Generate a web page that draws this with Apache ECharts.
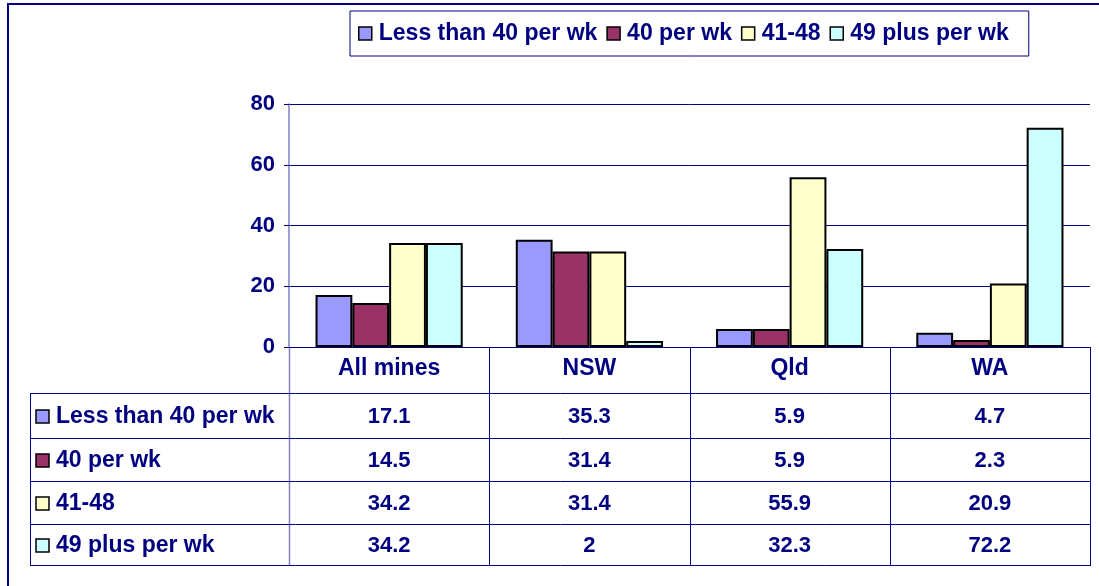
<!DOCTYPE html>
<html>
<head>
<meta charset="utf-8">
<script src="https://cdn.jsdelivr.net/npm/echarts@6/dist/echarts.min.js"></script>
<style>
  html, body { margin: 0; padding: 0; background: #fff; }
  #chart { width: 1099px; height: 586px; }
</style>
</head>
<body>
<div id="chart"></div>
<script>
// Weekly hours worked by mine location (%)
const categories = ['All mines', 'NSW', 'Qld', 'WA'];
const seriesNames = ['Less than 40 per wk', '40 per wk', '41-48', '49 plus per wk'];
const lessThan40 = [17.1, 35.3, 5.9, 4.7];
const exactly40 = [14.5, 31.4, 5.9, 2.3];
const from41to48 = [34.2, 31.4, 55.9, 20.9];
const over49 = [34.2, 2, 32.3, 72.2];
const yMin = 0, yMax = 80, yStep = 20;

const seriesValues = [lessThan40, exactly40, from41to48, over49];
const colors = ['#9999FF', '#993366', '#FFFFCC', '#CCFFFF'];
const NAVY = '#000080';
const FONT = '"Liberation Sans", Arial, sans-serif';

// plot area and data-table layout
const W = 1099, H = 586;
const plot = { left: 289, right: 1090, top: 104, bottom: 347 };
const tableLeft = 30;
const rowLines = [393, 438, 481, 524, 565];

const chart = echarts.init(document.getElementById('chart'), null, { renderer: 'canvas' });

chart.setOption({
  animation: false,
  backgroundColor: '#fff',
  textStyle: { fontFamily: FONT },
  color: colors,
  grid: {
    left: plot.left, right: W - plot.right, top: plot.top, bottom: H - plot.bottom,
    containLabel: false
  },
  legend: {
    data: seriesNames,
    left: 350, top: 11,
    padding: [11, 20, 11, 8],
    itemGap: 9,
    itemWidth: 13, itemHeight: 13,
    icon: 'rect',
    borderColor: NAVY, borderWidth: 1,
    textStyle: { color: NAVY, fontSize: 23, fontWeight: 'bold', fontFamily: FONT, padding: [0, 0, 0, 2] },
    itemStyle: { borderColor: '#000', borderWidth: 1.5 }
  },
  xAxis: {
    type: 'category',
    data: categories,
    axisLine: { show: true, lineStyle: { color: NAVY, width: 1 } },
    axisTick: { show: false },
    axisLabel: { color: NAVY, fontSize: 23, fontWeight: 'bold', fontFamily: FONT, margin: 10 },
    splitLine: { show: false }
  },
  yAxis: {
    type: 'value',
    min: yMin, max: yMax, interval: yStep,
    axisLine: { show: true, lineStyle: { color: '#8080C0', width: 1.5 } },
    axisTick: { show: true, length: 5, lineStyle: { color: NAVY } },
    axisLabel: { color: NAVY, fontSize: 22, fontWeight: 'bold', fontFamily: FONT, margin: 14 },
    splitLine: { show: true, lineStyle: { color: NAVY, width: 1 } }
  },
  series: seriesNames.map((name, i) => ({
    name: name,
    type: 'bar',
    data: seriesValues[i],
    barGap: '0%',
    barCategoryGap: '26.5%',
    itemStyle: { color: colors[i], borderColor: '#000', borderWidth: 2 },
    emphasis: { disabled: true }
  }))
});

// data table under the plot, aligned with the category axis
function buildTable() {
  const g = [];
  const colCenters = categories.map((c, i) => chart.convertToPixel({ xAxisIndex: 0 }, i));
  const colW = (plot.right - plot.left) / categories.length;
  const lineStyle = { stroke: NAVY, lineWidth: 1 };

  // outer chart frame
  g.push({ type: 'rect', shape: { x: 8, y: 4, width: 1200, height: 700 },
           style: { fill: 'none', stroke: NAVY, lineWidth: 2 }, silent: true });

  // column separators
  for (let i = 0; i <= categories.length; i++) {
    const x = Math.round(plot.left + i * colW) + 0.5;
    g.push({ type: 'line', shape: { x1: x, y1: plot.bottom, x2: x, y2: rowLines[rowLines.length - 1] },
             style: Object.assign({}, lineStyle, i === 0 ? { stroke: '#8080C0', lineWidth: 1.5 } : {}), silent: true });
  }
  // left edge of the label column
  g.push({ type: 'line', shape: { x1: tableLeft + 0.5, y1: rowLines[0], x2: tableLeft + 0.5, y2: rowLines[rowLines.length - 1] },
           style: lineStyle, silent: true });
  // row lines
  rowLines.forEach(y => {
    g.push({ type: 'line', shape: { x1: tableLeft, y1: y + 0.5, x2: plot.right + 1, y2: y + 0.5 },
             style: lineStyle, silent: true });
  });

  // rows: marker, series name, values
  seriesNames.forEach((name, r) => {
    const yMid = (rowLines[r] + rowLines[r + 1]) / 2 + 1;
    g.push({ type: 'rect', shape: { x: 36, y: Math.round(yMid - 7), width: 13, height: 13 },
             style: { fill: colors[r], stroke: '#000', lineWidth: 1.5 }, silent: true });
    g.push({ type: 'text', x: 56, y: yMid,
             style: { text: name, fill: NAVY, font: 'bold 23px ' + FONT, textAlign: 'left', textVerticalAlign: 'middle' },
             silent: true });
    seriesValues[r].forEach((v, c) => {
      g.push({ type: 'text', x: colCenters[c], y: yMid,
               style: { text: String(v), fill: NAVY, font: 'bold 22px ' + FONT, textAlign: 'center', textVerticalAlign: 'middle' },
               silent: true });
    });
  });
  chart.setOption({ graphic: { elements: g } });
}
buildTable();
</script>
</body>
</html>
